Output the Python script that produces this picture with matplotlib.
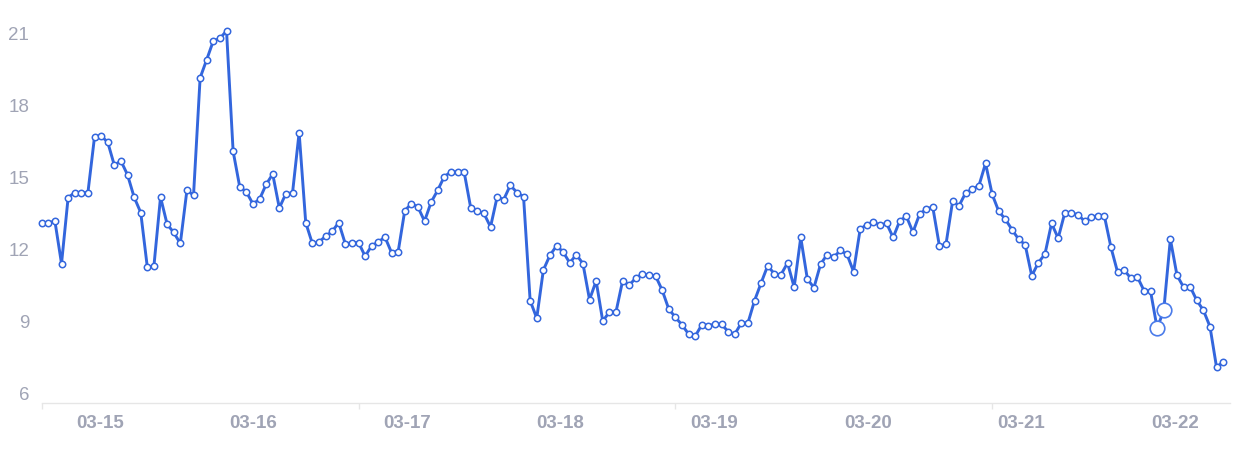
import matplotlib
matplotlib.use("Agg")
import matplotlib.pyplot as plt

# hourly values (180 points)
values = [13.11, 13.1, 13.17, 11.4, 14.15, 14.36, 14.36, 14.36, 16.68, 16.72,
          16.46, 15.5, 15.68, 15.1, 14.17, 13.53, 11.25, 11.3, 14.17, 13.04,
          12.7, 12.24, 14.46, 14.25, 19.14, 19.9, 20.68, 20.78, 21.1, 16.08,
          14.6, 14.39, 13.89, 14.08, 14.7, 15.13, 13.72, 14.32, 14.35, 16.86,
          13.11, 12.24, 12.3, 12.54, 12.74, 13.11, 12.22,
          12.28, 12.28, 11.71, 12.15, 12.3, 12.51, 11.86, 11.89, 13.6, 13.9,
          13.76, 13.17, 13.96, 14.46, 15.03, 15.22, 15.22, 15.22, 13.72, 13.58,
          13.49, 12.93, 14.18, 14.07, 14.67, 14.36, 14.19, 9.86, 9.13, 11.13,
          11.75, 12.14, 11.89, 11.43, 11.78, 11.4, 9.9, 10.68, 9.01, 9.38,
          9.38, 10.67, 10.5, 10.8, 10.97, 10.93, 10.89, 10.3, 9.51, 9.17,
          8.85, 8.47,
          8.375, 8.85, 8.82, 8.875, 8.875, 8.57, 8.46, 8.93, 8.93, 9.86,
          10.6, 11.32, 10.97, 10.94, 11.43, 10.42, 12.49, 10.76, 10.4, 11.375,
          11.78, 11.67, 11.95, 11.79, 11.07, 12.83, 13.03, 13.125, 13.01, 13.08,
          12.49, 13.18, 13.375, 12.71, 13.46, 13.67, 13.76, 12.15, 12.2, 13.99,
          13.82, 14.36, 14.5, 14.65, 15.58, 14.29, 13.58, 13.25, 12.82, 12.42,
          12.19, 10.89, 11.44, 11.8, 13.08, 12.46, 13.51, 13.51, 13.44, 13.17,
          13.35, 13.39, 13.39, 12.08, 11.05, 11.14, 10.79, 10.85, 10.28, 10.25,
          8.71, 9.46, 12.42, 10.92, 10.42, 10.44, 9.87, 9.46, 8.78, 7.08, 7.32]

# the two points drawn with a bigger symbol
highlight = [169, 170]

date_labels = ["03-15", "03-16", "03-17", "03-18", "03-19", "03-20", "03-21", "03-22"]
label_pos = [8.8, 32.1, 55.4, 78.6, 101.9, 125.2, 148.4, 171.7]
tick_pos = [0, 48, 96, 144]
y_ticks = [6, 9, 12, 15, 18, 21]

blue = "#3366dd"
grey = "#a0a4b5"

fig = plt.figure(figsize=(12.49, 4.53), dpi=100)
ax = fig.add_axes([0.0334, 0.1104, 0.9512, 0.8455])

x = list(range(len(values)))
ax.plot(x, values, color=blue, lw=2.1, marker="o", ms=4.6,
        mfc="white", mec=blue, mew=1.1, zorder=3, clip_on=False)
ax.plot([x[i] for i in highlight], [values[i] for i in highlight],
        ls="none", marker="o", ms=10.5, mfc="white", mec="#4a7bea",
        mew=1.2, zorder=4, clip_on=False)

ax.set_xlim(0, 180)
ax.set_ylim(5.596, 21.55)

# y axis: labels only
ax.set_yticks(y_ticks)
ax.set_yticklabels([str(v) for v in y_ticks])
ax.tick_params(axis="y", length=0, pad=9, labelsize=13.5, labelcolor=grey)

# x axis: short ticks at boundaries, labels in between
ax.set_xticks(tick_pos)
ax.set_xticklabels([""] * len(tick_pos))
ax.tick_params(axis="x", which="major", length=4, width=1, color="#e6e6e6", direction="out")
ax.set_xticks(label_pos, minor=True)
ax.set_xticklabels(date_labels, minor=True, fontweight="bold",
                   family="Liberation Sans")
ax.tick_params(axis="x", which="minor", length=0, pad=9, labelsize=13.5, labelcolor=grey)

for side in ["top", "right", "left"]:
    ax.spines[side].set_visible(False)
ax.spines["bottom"].set_color("#e6e6e6")
ax.spines["bottom"].set_linewidth(1)

for lab in ax.get_yticklabels():
    lab.set_family("Liberation Sans")

fig.savefig("out.png", dpi=100)
